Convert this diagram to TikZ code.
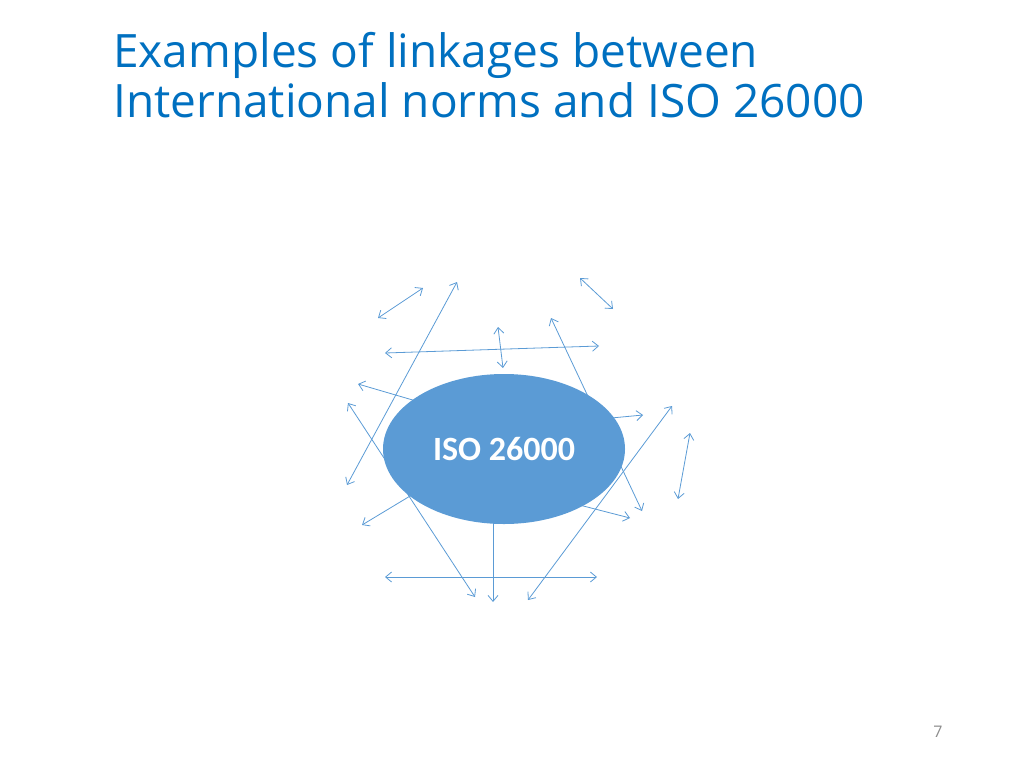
\documentclass[tikz,border=0pt]{standalone}
\usepackage{fontspec}
\setmainfont{Open Sans}
\newfontfamily\calibri{Carlito}
\usetikzlibrary{arrows.meta,shapes.geometric}
\definecolor{titleblue}{HTML}{0070C0}
\definecolor{ovalblue}{HTML}{5B9BD5}
\definecolor{pagegray}{HTML}{8C8C8C}
\begin{document}
\begin{tikzpicture}[x=1pt,y=-1pt,
	link/.style={draw=ovalblue, line width=0.8pt, {Straight Barb[length=6pt,width=10pt]}-{Straight Barb[length=6pt,width=10pt]}},
	outlink/.style={draw=ovalblue, line width=0.8pt, -{Straight Barb[length=6pt,width=10pt]}}]
	\useasboundingbox (0,0) rectangle (1024,768);
	
	% title
	\node[anchor=base west, align=left, text=titleblue, font=\fontsize{46}{50}\selectfont, inner sep=0pt] (title) at (113,117) {Examples of linkages between\\International norms and ISO 26000};
	
	% ends of the links
	\coordinate (a1s) at (378,318); \coordinate (a1e) at (423,288);
	\coordinate (a2s) at (347,485); \coordinate (a2e) at (457,282);
	\coordinate (a3s) at (348,403); \coordinate (a3e) at (475,597);
	\coordinate (a4s) at (440,408); \coordinate (a4e) at (358,384);
	\coordinate (a5s) at (385,353); \coordinate (a5e) at (599,346);
	\coordinate (a6s) at (498,327); \coordinate (a6e) at (503,368);
	\coordinate (a7s) at (580,278); \coordinate (a7e) at (613,309);
	\coordinate (a8s) at (551,318); \coordinate (a8e) at (642,511);
	\coordinate (a9s) at (590,420); \coordinate (a9e) at (643,415);
	\coordinate (a10s) at (672,406); \coordinate (a10e) at (528,600);
	\coordinate (a11s) at (690,433); \coordinate (a11e) at (678,499);
	\coordinate (a12s) at (560,500); \coordinate (a12e) at (630,518);
	\coordinate (a13s) at (430,484); \coordinate (a13e) at (362,525);
	\coordinate (a14s) at (493,470); \coordinate (a14e) at (493,602);
	\coordinate (a15s) at (385,577); \coordinate (a15e) at (597,577);
	
	\foreach \n in {1,2,3,5,6,7,8,10,11,15}
		\draw[link] (a\n s) -- (a\n e);
	\foreach \n in {4,9,12,13,14}
		\draw[outlink] (a\n s) -- (a\n e);
	
	% the standard in the middle
	\node[ellipse, fill=ovalblue, minimum width=242pt, minimum height=150pt, text=white, font=\calibri\bfseries\fontsize{34}{40}\selectfont] (iso) at (504,449) {ISO 26000};
	
	\node[text=pagegray, font=\fontsize{16}{19}\selectfont] (page) at (938,732) {7};
\end{tikzpicture}
\end{document}
